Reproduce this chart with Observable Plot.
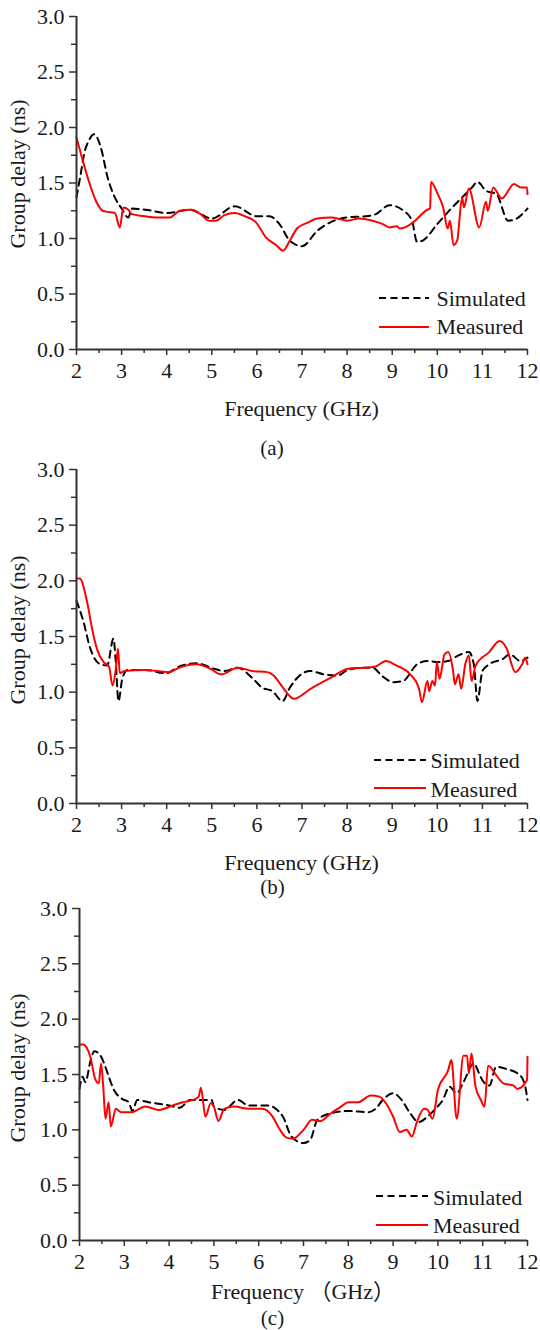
<!DOCTYPE html>
<html>
<head>
<meta charset="utf-8">
<script src="https://cdn.jsdelivr.net/npm/d3@7"></script>
<script src="https://cdn.jsdelivr.net/npm/@observablehq/plot@0.6"></script>
<style>
html, body { margin: 0; padding: 0; background: #fff; }
#root { position: relative; width: 540px; height: 1330px; overflow: hidden; background: #fff;
  font-family: "Liberation Serif", "Times New Roman", "Noto Sans CJK SC", serif; color: #1a1a1a; }
.t { position: absolute; white-space: nowrap; font-size: 22px; line-height: 22px; }
.c { position: absolute; white-space: nowrap; font-size: 21px; line-height: 21px; }
</style>
</head>
<body>
<div id="root"></div>
<script>
// ---------------- data ----------------
const seriesNames = ["Simulated", "Measured"];
const yTitle = "Group delay (ns)";
const xTitles = ["Frequency (GHz)", "Frequency (GHz)", "Frequency （GHz）"];
const captions = ["(a)", "(b)", "(c)"];

const xTicks = [2, 3, 4, 5, 6, 7, 8, 9, 10, 11, 12];
const xMinorTicks = [2.5, 3.5, 4.5, 5.5, 6.5, 7.5, 8.5, 9.5, 10.5, 11.5];
const yTicks = [0, 0.5, 1, 1.5, 2, 2.5, 3];
const yMinorTicks = [0.25, 0.75, 1.25, 1.75, 2.25, 2.75];

// (a)
const simA_f = [2.0,2.08,2.18,2.27,2.39,2.54,2.69,2.85,3.0,3.15,3.23,3.53,4.0,4.52,5.0,5.51,6.0,6.28,6.5,6.73,7.0,7.34,7.65,8.0,8.41,8.64,8.94,9.25,9.44,9.55,9.67,10.0,10.24,10.55,10.77,10.89,11.08,11.31,11.57,11.76,12.0];
const simA_v = [1.37,1.55,1.78,1.88,1.94,1.82,1.55,1.37,1.27,1.19,1.27,1.26,1.23,1.26,1.18,1.29,1.20,1.20,1.13,0.98,0.93,1.07,1.15,1.19,1.20,1.22,1.30,1.25,1.16,0.97,0.98,1.13,1.24,1.37,1.46,1.51,1.43,1.40,1.16,1.18,1.27];
const measA_f = [2.0,2.12,2.27,2.43,2.58,2.69,2.85,2.96,3.04,3.15,3.23,3.53,3.76,4.07,4.29,4.52,4.75,4.94,5.09,5.28,5.51,5.74,5.97,6.2,6.43,6.58,6.73,6.89,7.11,7.34,7.65,7.88,8.0,8.26,8.56,8.79,8.94,9.1,9.17,9.48,9.63,9.78,9.84,9.86,10.01,10.13,10.23,10.28,10.36,10.44,10.55,10.59,10.7,10.93,11.08,11.12,11.24,11.43,11.7,11.85,11.99,12.0];
const measA_v = [1.91,1.73,1.52,1.34,1.25,1.24,1.23,1.10,1.28,1.26,1.22,1.20,1.19,1.19,1.25,1.26,1.22,1.16,1.16,1.21,1.23,1.20,1.15,1.01,0.94,0.89,0.98,1.09,1.14,1.18,1.19,1.17,1.16,1.18,1.16,1.13,1.10,1.11,1.09,1.15,1.21,1.26,1.27,1.51,1.40,1.28,1.09,1.16,0.94,0.98,1.37,1.28,1.45,1.10,1.33,1.25,1.46,1.36,1.49,1.46,1.46,1.40];

// (b)
const simB_f = [2.0,2.15,2.3,2.53,2.68,2.82,2.87,2.93,3.02,3.14,3.52,3.98,4.28,4.66,5.05,5.27,5.58,5.89,6.12,6.34,6.57,6.73,6.95,7.18,7.49,7.79,8.02,8.33,8.56,8.79,9.02,9.24,9.55,9.78,10.01,10.24,10.47,10.7,10.81,10.89,11.0,11.15,11.46,11.61,11.84,12.0];
const simB_v = [1.82,1.64,1.40,1.25,1.24,1.48,1.28,0.92,1.13,1.20,1.20,1.17,1.23,1.26,1.21,1.19,1.22,1.13,1.04,1.01,0.92,1.04,1.15,1.19,1.16,1.15,1.20,1.22,1.22,1.14,1.09,1.10,1.25,1.28,1.27,1.28,1.33,1.36,1.25,0.92,1.19,1.25,1.30,1.34,1.28,1.31];
const measB_f = [2.0,2.07,2.24,2.35,2.46,2.6,2.72,2.8,2.87,2.92,2.96,3.06,3.52,4.05,4.28,4.66,4.97,5.2,5.58,5.89,6.23,6.37,6.56,6.74,6.82,7.19,7.64,8.02,8.4,8.63,8.86,9.09,9.4,9.59,9.66,9.78,9.82,9.89,9.95,9.99,10.05,10.16,10.24,10.35,10.39,10.47,10.53,10.62,10.7,10.76,10.85,11.15,11.38,11.53,11.73,11.88,11.95,12.0];
const measB_v = [2.02,2.02,1.80,1.56,1.38,1.27,1.23,1.06,1.20,1.39,1.17,1.19,1.20,1.18,1.22,1.25,1.21,1.16,1.22,1.19,1.18,1.15,1.05,0.96,0.94,1.03,1.13,1.21,1.22,1.23,1.28,1.24,1.16,1.04,0.91,1.10,1.01,1.10,1.06,1.27,1.12,1.34,1.36,1.19,1.07,1.16,1.03,1.25,1.33,1.10,1.24,1.36,1.46,1.40,1.18,1.25,1.31,1.25];

// (c)
const simC_f = [2.0,2.07,2.13,2.25,2.33,2.47,2.55,2.62,2.77,2.95,3.1,3.18,3.29,3.54,4.0,4.24,4.47,4.95,5.0,5.23,5.54,5.77,6.23,6.38,6.54,6.73,7.0,7.15,7.31,7.61,8.0,8.46,8.61,8.77,9.0,9.19,9.38,9.57,9.77,9.92,10.11,10.26,10.42,10.57,10.8,10.92,10.99,11.15,11.3,11.53,11.84,11.95,12.0];
const simC_v = [1.37,1.48,1.43,1.63,1.71,1.67,1.60,1.52,1.36,1.28,1.25,1.17,1.27,1.25,1.22,1.20,1.27,1.27,1.21,1.18,1.27,1.22,1.22,1.19,1.12,0.94,0.88,0.91,1.09,1.15,1.17,1.16,1.19,1.27,1.33,1.27,1.15,1.07,1.12,1.18,1.27,1.39,1.33,1.43,1.60,1.51,1.45,1.40,1.57,1.55,1.49,1.39,1.27];
const measC_f = [2.0,2.08,2.24,2.35,2.43,2.48,2.53,2.58,2.65,2.7,2.81,2.93,3.16,3.47,3.77,4.08,4.31,4.54,4.66,4.71,4.81,4.93,5.0,5.1,5.23,5.46,5.77,6.08,6.31,6.46,6.62,6.77,7.0,7.19,7.38,7.61,7.84,8.0,8.22,8.5,8.69,8.84,9.0,9.15,9.3,9.42,9.53,9.69,9.77,9.88,10.0,10.23,10.3,10.42,10.57,10.65,10.69,10.75,10.84,10.96,11.04,11.12,11.31,11.46,11.69,11.77,11.99,12.0];
const measC_v = [1.77,1.77,1.66,1.46,1.42,1.60,1.39,1.10,1.25,1.03,1.19,1.16,1.16,1.21,1.18,1.22,1.25,1.27,1.30,1.38,1.12,1.24,1.21,1.08,1.19,1.21,1.19,1.19,1.12,1.01,0.93,0.92,1.00,1.09,1.08,1.15,1.21,1.25,1.25,1.31,1.30,1.24,1.12,0.98,1.00,0.94,1.07,1.19,1.18,1.10,1.36,1.54,1.63,1.10,1.67,1.67,1.51,1.69,1.39,1.27,1.21,1.58,1.49,1.42,1.40,1.37,1.45,1.66];

// ---------------- layout (pixels, not data) ----------------
const layouts = [
  {top: 16,  bottom: 349,  left: 76, titleBase: 416,    titleX: 301.5, capBase: 455.5,  capX: 272,
   legX0: 379, legX1: 429, legTextX: 436.5, legY: [298, 327],   legBase: [306, 334],   yTitleY: 174},
  {top: 469, bottom: 803,  left: 76, titleBase: 870,    titleX: 301.5, capBase: 894.5,  capX: 272.5,
   legX0: 374, legX1: 426, legTextX: 430.5, legY: [760, 788],   legBase: [768, 797],   yTitleY: 630},
  {top: 908, bottom: 1240, left: 79, titleBase: 1299.5, titleX: 303,   capBase: 1325.5, capX: 272.5,
   legX0: 376, legX1: 428, legTextX: 433,   legY: [1196, 1225], legBase: [1205, 1233], yTitleY: 1067.5}
];

const zipSeries = (f, v) => f.map((x, i) => ({f: x, v: v[i]}));
const panels = [
  {sim: zipSeries(simA_f, simA_v), meas: zipSeries(measA_f, measA_v)},
  {sim: zipSeries(simB_f, simB_v), meas: zipSeries(measB_f, measB_v)},
  {sim: zipSeries(simC_f, simC_v), meas: zipSeries(measC_f, measC_v)}
];

const SIM_COLOR = "#000000", MEAS_COLOR = "#ff0000", AXIS_COLOR = "#333333", TEXT_COLOR = "#1a1a1a";
const DASH = "7,5";
const root = document.getElementById("root");
const SVGNS = "http://www.w3.org/2000/svg";

function addText(str, x, baseline, anchor, cls = "t", basePx = 18.4) {
  const d = document.createElement("div");
  d.className = cls;
  d.textContent = str;
  d.style.top = (baseline - basePx) + "px";
  if (anchor === "middle") {
    d.style.left = (x - 200) + "px"; d.style.width = "400px"; d.style.textAlign = "center";
  } else {
    d.style.left = x + "px";
  }
  root.appendChild(d);
  return d;
}

function addLegendLine(x0, x1, y, color, dash) {
  const s = document.createElementNS(SVGNS, "svg");
  s.setAttribute("width", x1 - x0);
  s.setAttribute("height", 6);
  s.style.position = "absolute";
  s.style.left = x0 + "px";
  s.style.top = (y - 3) + "px";
  const l = document.createElementNS(SVGNS, "line");
  l.setAttribute("x1", 0); l.setAttribute("x2", x1 - x0);
  l.setAttribute("y1", 3); l.setAttribute("y2", 3);
  l.setAttribute("stroke", color); l.setAttribute("stroke-width", 2);
  if (dash) l.setAttribute("stroke-dasharray", dash);
  s.appendChild(l);
  root.appendChild(s);
}

panels.forEach((p, i) => {
  const L = layouts[i];
  const mt = 15, mb = 35;
  const chart = Plot.plot({
    width: 540,
    height: (L.bottom - L.top) + mt + mb,
    marginTop: mt, marginBottom: mb, marginLeft: L.left, marginRight: 13,
    x: {domain: [xTicks[0], xTicks[xTicks.length - 1]], label: null},
    y: {domain: [yTicks[0], yTicks[yTicks.length - 1]], label: null},
    style: {fontFamily: '"Liberation Serif", "Times New Roman", serif', fontSize: "22px",
            color: TEXT_COLOR, background: "transparent", overflow: "visible"},
    marks: [
      Plot.line(p.sim, {x: "f", y: "v", stroke: SIM_COLOR, strokeWidth: 2, strokeDasharray: DASH, curve: "monotone-x"}),
      Plot.line(p.meas, {x: "f", y: "v", stroke: MEAS_COLOR, strokeWidth: 2, curve: "monotone-x"}),
      Plot.axisX(xMinorTicks, {tickSize: 4, fill: "none", label: null, stroke: AXIS_COLOR, strokeWidth: 1.5}),
      Plot.axisX(xTicks, {tickSize: 6, tickPadding: 7, tickFormat: d => String(d), label: null,
                          stroke: AXIS_COLOR, strokeWidth: 1.5, fill: TEXT_COLOR}),
      Plot.axisY(yMinorTicks, {tickSize: 5, fill: "none", label: null, stroke: AXIS_COLOR, strokeWidth: 1.5}),
      Plot.axisY(yTicks, {tickSize: 7, tickPadding: 5, tickFormat: d3.format(".1f"), label: null,
                          stroke: AXIS_COLOR, strokeWidth: 1.5, fill: TEXT_COLOR}),
      Plot.ruleX([xTicks[0]], {stroke: AXIS_COLOR, strokeWidth: 2}),
      Plot.ruleY([yTicks[0]], {stroke: AXIS_COLOR, strokeWidth: 2})
    ]
  });
  chart.style.position = "absolute";
  chart.style.left = "0px";
  chart.style.top = (L.top - mt) + "px";
  root.appendChild(chart);

  // axis titles and caption
  addText(xTitles[i], L.titleX, L.titleBase, "middle");
  addText(captions[i], L.capX, L.capBase, "middle", "c", 17.6);
  const yt = document.createElement("div");
  yt.className = "t";
  yt.textContent = yTitle;
  yt.style.width = "300px";
  yt.style.textAlign = "center";
  yt.style.left = (17.6 - 150) + "px";
  yt.style.top = (L.yTitleY - 11) + "px";
  yt.style.transform = "rotate(-90deg)";
  root.appendChild(yt);

  // legend
  addLegendLine(L.legX0, L.legX1, L.legY[0], SIM_COLOR, "7,4.5");
  addLegendLine(L.legX0, L.legX1, L.legY[1], MEAS_COLOR, null);
  addText(seriesNames[0], L.legTextX, L.legBase[0], "start");
  addText(seriesNames[1], L.legTextX, L.legBase[1], "start");
});
</script>
</body>
</html>
